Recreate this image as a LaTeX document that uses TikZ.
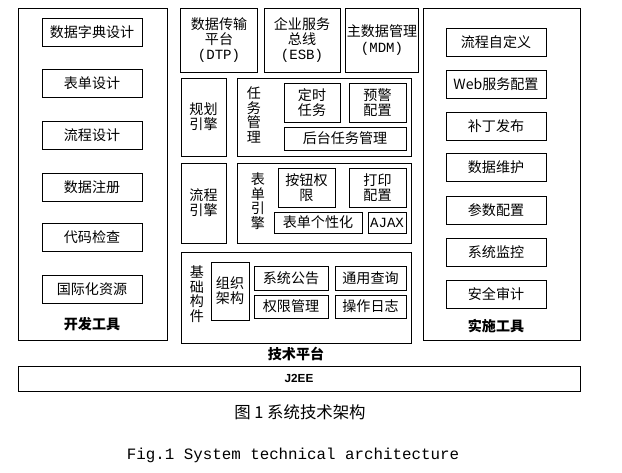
\documentclass[tikz,border=0pt]{standalone}
\usepackage{fontspec}
\setmainfont{Noto Sans CJK SC}
\setmonofont{Liberation Mono}
\setsansfont{Liberation Sans}
\usetikzlibrary{positioning}
\begin{document}
\begin{tikzpicture}[x=0.03cm, y=-0.03cm, font=\fontsize{12}{13}\selectfont]

% styles
\tikzstyle{panel} = [draw=black, line width=0.8pt]
\tikzstyle{box} = [draw=black, line width=0.7pt, align=center, inner sep=1pt]
\tikzstyle{item} = [box, minimum width=3cm, minimum height=0.84cm]

\useasboundingbox (0,0) rectangle (622,472);

% left panel: development tools
\draw [panel] (18,8) rectangle (167,340);
\foreach \name/\yy [count=\i] in {数据字典设计/32, 表单设计/83, 流程设计/135, 数据注册/187, 代码检查/237, 国际化资源/289}
  \node (dev\i) [item] at (92,\yy) {\name};
\node (devlabel) at (92,324) {\textbf{开发工具}};

% right panel: implementation tools
\draw [panel] (423,8) rectangle (580,340);
\foreach \name/\yy [count=\i] in {流程自定义/42, Web服务配置/84, 补丁发布/126, 数据维护/167, 参数配置/210, 系统监控/252, 安全审计/294}
  \node (impl\i) [item] at (496,\yy) {\name};
\node (impllabel) at (496,326) {\textbf{实施工具}};

% top services
\node (dtp) [box, minimum width=2.3cm, minimum height=1.92cm] at (219,40) {数据传输\\平台\\\texttt{(DTP)}};
\node (esb) [box, minimum width=2.28cm, minimum height=1.92cm] at (302,40) {企业服务\\总线\\\texttt{(ESB)}};
\node (mdm) [box, minimum width=2.16cm, minimum height=1.92cm] at (382,40) {主数据管理\\\texttt{(MDM)}};

% planning engine
\node (plan) [box, minimum width=1.35cm, minimum height=2.34cm] at (203.5,117) {规划\\引擎};
\draw [panel] (237,78) rectangle (411,156);
\node (taskmgr) [align=center, font=\fontsize{12}{12.5}\selectfont] at (254,115) {任\\务\\管\\理};
\node (timer) [box, minimum width=1.68cm, minimum height=1.17cm] at (312,102.5) {定时\\任务};
\node (alarm) [box, minimum width=1.71cm, minimum height=1.17cm] at (377.5,102.5) {预警\\配置};
\node (bgtask) [box, minimum width=3.66cm, minimum height=0.69cm] at (345,138.5) {后台任务管理};

% flow engine
\node (flow) [box, minimum width=1.35cm, minimum height=2.4cm] at (203.5,203) {流程\\引擎};
\draw [panel] (237,163) rectangle (411,243);
\node (formeng) [align=center, font=\fontsize{12}{12.5}\selectfont] at (258,201) {表\\单\\引\\擎};
\node (btnauth) [box, minimum width=1.71cm, minimum height=1.17cm] at (306.5,187.5) {按钮权\\限};
\node (print) [box, minimum width=1.71cm, minimum height=1.17cm] at (377.5,187.5) {打印\\配置};
\node (formcust) [box, minimum width=2.64cm, minimum height=0.63cm] at (318,222.5) {表单个性化};
\node (ajax) [box, minimum width=1.14cm, minimum height=0.63cm] at (387,222.5) {\texttt{AJAX}};

% basic components
\draw [panel] (181,252) rectangle (411,343);
\node (basic) [align=center, font=\fontsize{12}{12.5}\selectfont] at (197,294) {基\\础\\构\\件};
\node (org) [box, minimum width=1.14cm, minimum height=1.74cm] at (230,291) {组织\\架构};
\node (notice) [box, minimum width=2.22cm, minimum height=0.72cm] at (291,278) {系统公告};
\node (query) [box, minimum width=2.13cm, minimum height=0.72cm] at (370.5,278) {通用查询};
\node (perm) [box, minimum width=2.22cm, minimum height=0.69cm] at (291,306.5) {权限管理};
\node (oplog) [box, minimum width=2.13cm, minimum height=0.69cm] at (370.5,306.5) {操作日志};
\node (techlabel) at (296,354) {\textbf{技术平台}};

% J2EE base
\node (j2ee) [box, minimum width=16.86cm, minimum height=0.75cm, font=\sffamily\bfseries] at (299,378.5) {J2EE};

% captions
\node (caption) [font=\fontsize{14}{16}\selectfont] at (300,412) {图 1 系统技术架构};
\node (captionen) [font=\ttfamily\fontsize{13.5}{15}\selectfont] at (293,455) {Fig.1 System technical architecture};
\end{tikzpicture}
\end{document}
